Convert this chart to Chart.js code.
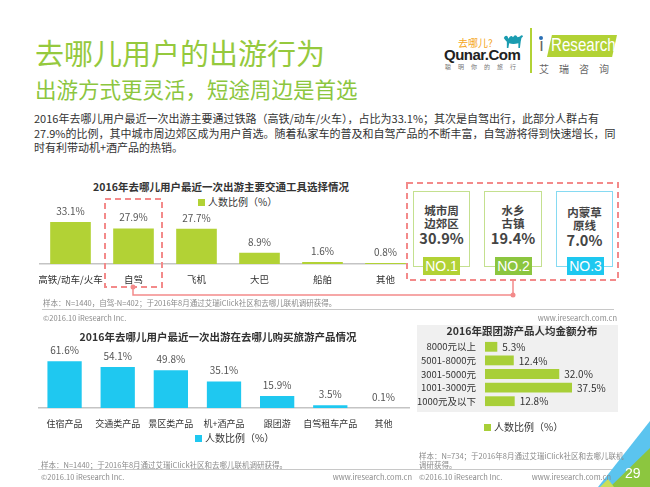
<!DOCTYPE html>
<html><head><meta charset="utf-8">
<script src="https://cdn.jsdelivr.net/npm/chart.js@4.4.1/dist/chart.umd.min.js"></script>
<style>
html,body{margin:0;padding:0;background:#fff;}
#page{position:relative;width:650px;height:487px;overflow:hidden;background:#fff;font-family:"Noto Sans CJK SC","Noto Sans",sans-serif;color:#333;}
.t{position:absolute;white-space:nowrap;}
canvas{position:absolute;}
.box{position:absolute;background:#fff;border:1.5px solid #c4e08f;box-sizing:border-box;text-align:center;font-weight:bold;color:#444;}
.badge{position:absolute;color:#fff;font-family:"Liberation Sans",Arial,sans-serif;font-size:14px;text-align:center;line-height:18px;height:18px;width:37px;}
.small{font-size:7.5px;color:#8a8a8a;line-height:9px;}
.lg{font-size:10px;color:#333;line-height:12px;}
.sq{display:inline-block;width:7px;height:7px;margin-right:3px;vertical-align:0px;}
</style></head>
<body><div id="page">
<!-- header -->
<div class="t" style="left:35px;top:35px;font-size:29px;line-height:35px;color:#95c93d;">去哪儿用户的出游行为</div>
<div class="t" style="left:35px;top:76px;font-size:21.5px;line-height:26px;color:#8cc63f;">出游方式更灵活，短途周边是首选</div>
<div class="t" style="left:34px;top:111px;font-size:11px;line-height:14.5px;color:#333;">2016年去哪儿用户最近一次出游主要通过铁路（高铁/动车/火车），占比为33.1%；其次是自驾出行，此部分人群占有<br>27.9%的比例，其中城市周边郊区成为用户首选。随着私家车的普及和自驾产品的不断丰富，自驾游将得到快速增长，同<br>时有利带动机+酒产品的热销。</div>
<!-- logos -->
<div class="t" style="left:458px;top:37px;font-size:10px;line-height:12px;color:#f5a623;">去哪儿?</div>
<svg style="position:absolute;left:501px;top:31px" width="24" height="20" viewBox="0 0 30 26"><path d="M3 9 Q5 5 8 7 L9 10 Q12 4 15 8 Q18 3 21 8 L24 7 Q27 4 28 7 L26 9 L25 14 L24 22 L22 22 L22 16 Q15 18 10 16 L9 22 L7 22 L7 14 Q5 12 3 9 Z" fill="#1a9cb0"/></svg>
<div class="t" style="left:444px;top:46px;font-family:'Liberation Sans',Arial,sans-serif;font-weight:bold;font-size:15px;line-height:17px;color:#222;letter-spacing:-0.5px;">Qunar.Com</div>
<div class="t" style="left:445px;top:63px;font-size:6px;line-height:7px;color:#777;letter-spacing:7px;">聪明你的旅行</div>
<div style="position:absolute;left:530px;top:28px;width:2px;height:45px;background:#b2d235;"></div>
<div style="position:absolute;left:547px;top:35px;width:70px;height:22px;background:#b2d235;clip-path:polygon(7% 0,100% 0,93% 100%,0 100%);"></div>
<div class="t" style="left:539px;top:35px;font-family:'Liberation Sans',Arial,sans-serif;font-size:18px;line-height:21px;color:#666;">ı</div>
<div class="t" style="left:551px;top:35px;font-family:'Liberation Sans',Arial,sans-serif;font-size:18px;line-height:21px;color:#fff;transform:scaleX(0.84);transform-origin:0 0;">Research</div>
<div style="position:absolute;left:539px;top:36px;width:4px;height:4px;border-radius:2px;background:#2a6fb5;"></div>
<div class="t" style="left:539px;top:63px;font-size:10px;line-height:12px;color:#666;letter-spacing:10px;">艾瑞咨询</div>

<!-- chart 1 -->
<div class="t" style="left:0;width:442px;text-align:center;top:180px;font-size:10.5px;line-height:14px;font-weight:bold;color:#333;">2016年去哪儿用户最近一次出游主要交通工具选择情况</div>
<div class="t lg" style="left:198px;top:196px;"><span class="sq" style="background:#b2d235;"></span><span id="lg1"></span></div>
<canvas id="c1" width="378" height="86" style="left:39px;top:204px;width:378px;height:86px;"></canvas>

<svg style="position:absolute;left:0;top:0" width="650" height="487">
  <rect x="407" y="183" width="211" height="97" fill="#fff" stroke="#f38a8a" stroke-width="2" stroke-dasharray="6,4"/>
  <rect x="105" y="199" width="57" height="88" fill="none" stroke="#f38a8a" stroke-width="2" stroke-dasharray="6,4"/>
  <polyline points="133,287 133,295 513,295 513,280" fill="none" stroke="#f38a8a" stroke-width="1.5"/>
  <circle cx="133" cy="287" r="2.5" fill="#f38a8a"/>
  <circle cx="513" cy="295" r="2.5" fill="#f38a8a"/>
  <line x1="42" y1="309.5" x2="614" y2="309.5" stroke="#c8c8c8" stroke-width="1"/>
  <line x1="38" y1="469.5" x2="617" y2="469.5" stroke="#c8c8c8" stroke-width="1"/>
  <polygon points="650,421 650,487 598,487" fill="#5bc4ef"/>
  <polygon points="650,448 650,487 610,487" fill="#8cc63f"/>
  <polygon points="600,487 614,487 608,479" fill="#c9de5a"/>
</svg>
<div id="dest"></div>

<div class="t small" style="left:43px;top:298px;">样本：N=1440，自驾-N=402；于2016年8月通过艾瑞iClick社区和去哪儿联机调研获得。</div>
<div class="t small" style="left:43px;top:313px;">©2016.10 iResearch Inc.</div>
<div class="t small" style="left:500px;width:117px;text-align:right;top:313px;">www.iresearch.com.cn</div>

<!-- chart 2 -->
<div class="t" style="left:0;width:436px;text-align:center;top:330px;font-size:10.5px;line-height:14px;font-weight:bold;color:#333;">2016年去哪儿用户最近一次出游在去哪儿购买旅游产品情况</div>
<canvas id="c2" width="372" height="86" style="left:38px;top:344px;width:372px;height:86px;"></canvas>
<div class="t lg" style="left:195px;top:432px;"><span class="sq" style="background:#1fc8f0;"></span><span id="lg2"></span></div>
<div class="t small" style="left:41px;top:460px;">样本：N=1440；于2016年8月通过艾瑞iClick社区和去哪儿联机调研获得。</div>
<div class="t small" style="left:41px;top:472px;">©2016.10 iResearch Inc.</div>
<div class="t small" style="left:300px;width:112px;text-align:right;top:472px;">www.iresearch.com.cn</div>

<!-- chart 3 -->
<div style="position:absolute;left:417px;top:325px;width:201px;height:87px;background:#f0f0f0;"></div>
<div class="t" style="left:417px;width:210px;text-align:center;top:324px;font-size:10.5px;line-height:14px;font-weight:bold;color:#333;">2016年跟团游产品人均金额分布</div>
<canvas id="c3" width="201" height="68" style="left:417px;top:340px;width:201px;height:68px;"></canvas>
<div class="t lg" style="left:484px;top:421px;"><span class="sq" style="background:#a8cf38;"></span><span id="lg3"></span></div>
<div class="t small" style="left:419px;top:451px;">样本：N=734；于2016年8月通过艾瑞iClick社区和去哪儿联机</div>
<div class="t small" style="left:419px;top:460px;">调研获得。</div>
<div class="t small" style="left:419px;top:472px;">©2016.10 iResearch Inc.</div>
<div class="t small" style="left:500px;width:111px;text-align:right;top:472px;">www.iresearch.com.cn</div>
<div class="t" style="left:625px;top:465px;font-family:'Liberation Sans',Arial,sans-serif;font-size:14px;line-height:16px;color:#fff;">29</div>
</div>

<script>
// ---- data ----
const seriesName = '人数比例（%）';
const transportCats = ['高铁/动车/火车', '自驾', '飞机', '大巴', '船舶', '其他'];
const transportVals = [33.1, 27.9, 27.7, 8.9, 1.6, 0.8];
const productCats = ['住宿产品', '交通类产品', '景区类产品', '机+酒产品', '跟团游', '自驾租车产品', '其他'];
const productVals = [61.6, 54.1, 49.8, 35.1, 15.9, 3.5, 0.1];
const priceCats = ['8000元以上', '5001-8000元', '3001-5000元', '1001-3000元', '1000元及以下'];
const priceVals = [5.3, 12.4, 32.0, 37.5, 12.8];
const destLine1 = ['城市周', '水乡', '内蒙草'];
const destLine2 = ['边郊区', '古镇', '原线'];
const destVals = [30.9, 19.4, 7.0];
const destRanks = ['NO.1', 'NO.2', 'NO.3'];

const FONT = '"Noto Sans CJK SC","Noto Sans",sans-serif';
document.getElementById('lg1').textContent = seriesName;
document.getElementById('lg2').textContent = seriesName;
document.getElementById('lg3').textContent = seriesName;

// destination boxes (layout only, content from arrays)
const destLeft = [413, 484, 556];
const destBorder = ['#c4e08f', '#c4e08f', '#86daf2'];
const badgeLeft = [423, 495, 567];
const badgeColor = ['#b2d235', '#8cc63f', '#1ec8f0'];
let html = '';
destVals.forEach((v, i) => {
  html += `<div class="box" style="left:${destLeft[i]}px;top:191px;width:${i===1?58:57}px;height:76px;border-color:${destBorder[i]};">
    <div style="margin-top:${i===2?14:12}px;font-size:11.5px;line-height:12.5px;">${destLine1[i]}<br>${destLine2[i]}</div>
    <div style="font-size:14.5px;line-height:17px;">${v.toFixed(1)}%</div></div>
    <div class="badge" style="left:${badgeLeft[i]}px;top:257px;background:${badgeColor[i]};">${destRanks[i]}</div>`;
});
document.getElementById('dest').innerHTML = html;

const valueLabels = {
  id: 'valueLabels',
  afterDatasetsDraw(chart, args, opts) {
    const ctx = chart.ctx;
    const meta = chart.getDatasetMeta(0);
    const data = chart.data.datasets[0].data;
    ctx.save();
    ctx.font = `${opts.size || 10}px ${FONT}`;
    ctx.fillStyle = opts.color || '#555';
    meta.data.forEach((el, i) => {
      const txt = data[i].toFixed(1) + '%';
      if (opts.horizontal) {
        ctx.textAlign = 'left'; ctx.textBaseline = 'middle';
        ctx.fillText(txt, el.x + 5, el.y + 0.5);
      } else {
        ctx.textAlign = 'center'; ctx.textBaseline = 'middle';
        ctx.fillText(txt, el.x, el.y - 11);
      }
    });
    ctx.restore();
  }
};

function vbar(id, labels, vals, color, max, axisH, pad, fs) {
  return new Chart(document.getElementById(id), {
    type: 'bar',
    data: { labels: labels, datasets: [{ label: seriesName, data: vals, backgroundColor: color, barPercentage: 0.645, categoryPercentage: 1 }] },
    options: {
      responsive: false, animation: false,
      layout: { padding: 0 },
      plugins: { legend: { display: false }, tooltip: { enabled: false }, valueLabels: { size: 10, color: '#555' } },
      scales: {
        x: {
          grid: { display: false, drawTicks: false },
          border: { display: true, color: '#c4c4c4', width: 1.5 },
          ticks: { padding: pad, color: '#333', font: { family: FONT, size: fs }, maxRotation: 0, autoSkip: false },
          afterFit(s) { s.height = axisH; s.paddingLeft = 0; s.paddingRight = 0; }
        },
        y: { display: false, min: 0, max: max }
      }
    },
    plugins: [valueLabels]
  });
}

vbar('c1', transportCats, transportVals, '#b2d235', 47.3, 26, 10, 9.5);
vbar('c2', productCats, productVals, '#1fc8f0', 84.4, 22, 10, 9);

new Chart(document.getElementById('c3'), {
  type: 'bar',
  data: { labels: priceCats, datasets: [{ label: seriesName, data: priceVals, backgroundColor: '#a8cf38', barPercentage: 0.72, categoryPercentage: 1 }] },
  options: {
    indexAxis: 'y', responsive: false, animation: false,
    layout: { padding: { right: 17, top: 0, bottom: 0, left: 0 } },
    plugins: { legend: { display: false }, tooltip: { enabled: false }, valueLabels: { size: 10, color: '#333', horizontal: true } },
    scales: {
      x: { display: false, min: 0, max: 50 },
      y: {
        grid: { display: false, drawTicks: false },
        border: { display: false },
        ticks: { padding: 9, color: '#333', font: { family: FONT, size: 9.5 }, autoSkip: false },
        afterFit(s) { s.width = 68; s.paddingTop = 0; s.paddingBottom = 0; }
      }
    }
  },
  plugins: [valueLabels]
});
</script>
</body></html>
